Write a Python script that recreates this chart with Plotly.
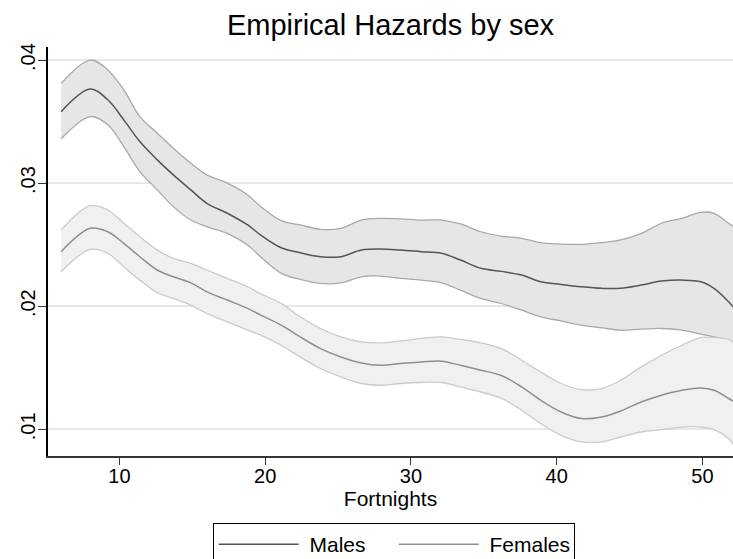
import plotly.graph_objects as go

fortnight = [6, 8, 9.2, 10.3, 11.4, 12.6, 13.7, 14.9, 16.0, 17.4, 18.8, 19.7, 21.1, 22.4, 23.8,
             25.2, 26.6, 27.9, 29.3, 30.7, 32.1, 33.4, 34.8, 36.2, 37.6, 38.9, 40.3, 41.7,
             43.1, 44.4, 45.8, 47.2, 48.6, 49.9, 50.8, 51.8, 52.1]

male_upper = [0.0381, 0.0400, 0.0392, 0.03758, 0.03541, 0.03406, 0.03284, 0.03162, 0.03067,
              0.0300, 0.02904, 0.02809, 0.02695, 0.0266, 0.02625, 0.02633, 0.027, 0.02714,
              0.02709, 0.027, 0.027, 0.02668, 0.02605, 0.0257, 0.02552, 0.02516, 0.02505,
              0.02503, 0.02516, 0.02538, 0.02592, 0.02674, 0.02714, 0.02763, 0.02755,
              0.02674, 0.0265]
male_hazard = [0.0358, 0.03764, 0.03677, 0.03514, 0.03338, 0.03189, 0.03067, 0.02945, 0.02836,
               0.02755, 0.0266, 0.02578, 0.02475, 0.02434, 0.02402, 0.02402, 0.02456, 0.02465,
               0.02456, 0.02443, 0.0243, 0.02375, 0.02308, 0.02283, 0.02253, 0.02199, 0.02177,
               0.02158, 0.02145, 0.02145, 0.02172, 0.02204, 0.02212, 0.02199, 0.02145,
               0.02036, 0.01995]
male_lower = [0.0336, 0.03541, 0.03474, 0.03297, 0.03094, 0.02945, 0.02809, 0.027, 0.02646,
              0.02592, 0.02497, 0.0240, 0.02267, 0.02218, 0.02185, 0.0219, 0.02239, 0.02245,
              0.02226, 0.02212, 0.0219, 0.02131, 0.02063, 0.02022, 0.01968, 0.01914, 0.01881,
              0.01846, 0.01824, 0.01805, 0.01814, 0.01819, 0.01805, 0.01773, 0.01751,
              0.01724, 0.0171]

female_upper = [0.02619, 0.02817, 0.02782, 0.02674, 0.02565, 0.02456, 0.02389, 0.02348, 0.02294,
                0.02226, 0.02158, 0.0210, 0.02023, 0.01914, 0.01819, 0.01751, 0.0171, 0.01702,
                0.01718, 0.01738, 0.01751, 0.0173, 0.01702, 0.01656, 0.01561, 0.01466, 0.01372,
                0.01323, 0.01331, 0.01399, 0.01507, 0.01602, 0.01683, 0.01746, 0.01746,
                0.0173, 0.0171]
female_hazard = [0.02443, 0.02633, 0.02605, 0.02511, 0.02402, 0.02294, 0.02239, 0.0219, 0.02117,
                 0.0205, 0.01982, 0.01928, 0.01846, 0.01751, 0.01656, 0.01588, 0.01539, 0.0152,
                 0.01534, 0.01547, 0.01553, 0.0152, 0.0148, 0.01437, 0.01344, 0.01236, 0.01141,
                 0.01087, 0.011, 0.01149, 0.01222, 0.01277, 0.01317, 0.01336, 0.01317,
                 0.0125, 0.0123]
female_lower = [0.0228, 0.02462, 0.0243, 0.0232, 0.02212, 0.02109, 0.02063, 0.02009, 0.01941,
                0.01873, 0.01805, 0.01765, 0.01683, 0.01588, 0.01494, 0.01425, 0.01372, 0.01358,
                0.01372, 0.0138, 0.0138, 0.01344, 0.01303, 0.01252, 0.01155, 0.01046, 0.00951,
                0.00897, 0.00897, 0.00937, 0.00978, 0.00997, 0.01018, 0.01018, 0.00997,
                0.00924, 0.00878]

y_tickvals = [0.01, 0.02, 0.03, 0.04]
y_ticktext = [".01", ".02", ".03", ".04"]
x_tickvals = [10, 20, 30, 40, 50]
legend_names = ["\u00a0Males", "\u00a0Females"]

FONT = "Liberation Sans, Arial, Helvetica, sans-serif"

fig = go.Figure()

def band(lower, upper, fill, edge):
    fig.add_trace(go.Scatter(x=fortnight, y=lower, mode="lines", line=dict(color=edge, width=1.3, shape="spline"),
                             showlegend=False, hoverinfo="skip"))
    fig.add_trace(go.Scatter(x=fortnight, y=upper, mode="lines", line=dict(color=edge, width=1.3, shape="spline"),
                             fill="tonexty", fillcolor=fill, showlegend=False, hoverinfo="skip"))

band(male_lower, male_upper, "#e6e6e6", "#a9a9a9")
band(female_lower, female_upper, "#f0f0f0", "#cbcbcb")

fig.add_trace(go.Scatter(x=fortnight, y=male_hazard, mode="lines", name=legend_names[0],
                         line=dict(color="#555555", width=1.5, shape="spline")))
fig.add_trace(go.Scatter(x=fortnight, y=female_hazard, mode="lines", name=legend_names[1],
                         line=dict(color="#8f8f8f", width=1.5, shape="spline")))

fig.update_layout(
    width=733, height=559,
    margin=dict(l=48, r=0, t=47, b=103, autoexpand=False),
    paper_bgcolor="white", plot_bgcolor="white",
    font=dict(family=FONT, color="black", size=20),
    title=dict(text="Empirical Hazards by sex", x=0.5, xref="paper", xanchor="center",
               y=0.956, yanchor="middle", font=dict(size=29, family=FONT, color="black")),
    showlegend=True,
    legend=dict(orientation="h", x=0.2404, xanchor="left", y=-0.164, yanchor="top",
                traceorder="normal",
                bordercolor="black", borderwidth=1, bgcolor="white",
                font=dict(size=21, family=FONT), itemwidth=80,
                entrywidth=85, entrywidthmode="pixels"),
)
fig.update_xaxes(range=[5.1, 52.1], tickvals=x_tickvals, ticks="outside", ticklen=7, tickcolor="#333",
                 showline=True, linecolor="#333", linewidth=1.5, showgrid=False, zeroline=False,
                 tickfont=dict(size=20), ticklabelstandoff=-6,
                 title=dict(text="Fortnights", font=dict(size=21), standoff=3))
fig.update_yaxes(range=[0.00783, 0.04106], tickvals=y_tickvals, ticktext=y_ticktext, tickangle=-90,
                 ticks="outside", ticklen=8, tickcolor="#333", showline=True, linecolor="black", linewidth=1.5,
                 showgrid=True, gridcolor="#e8e8e8", gridwidth=1.5, zeroline=False, tickfont=dict(size=20),
                 ticklabelstandoff=-5)

fig.write_html("out.html")
